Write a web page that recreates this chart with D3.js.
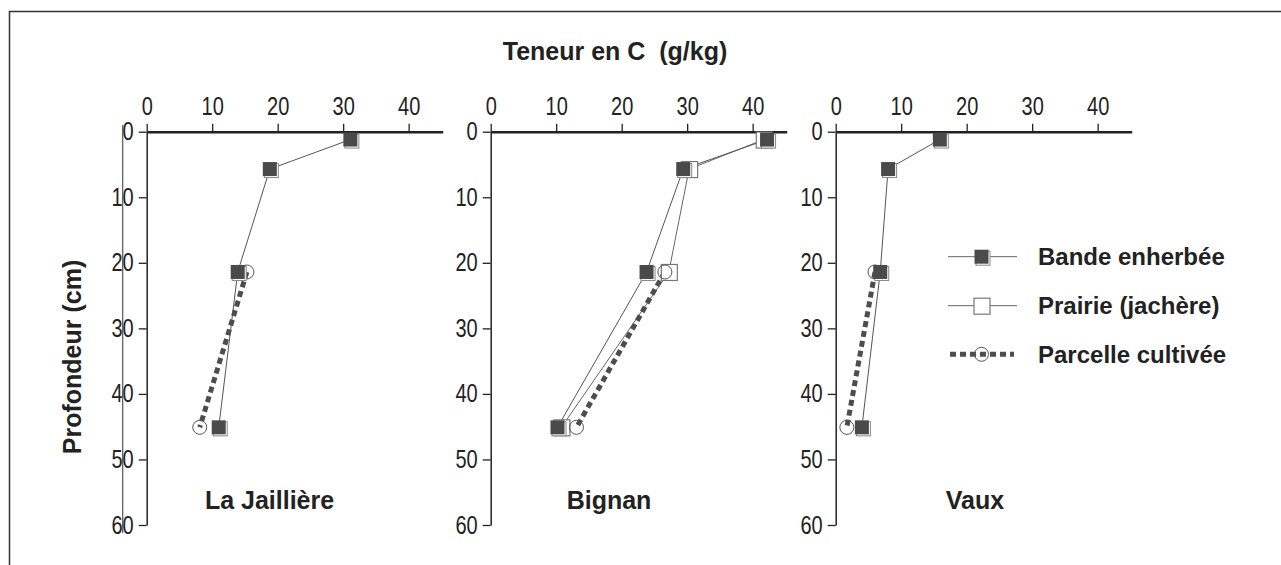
<!DOCTYPE html>
<html>
<head>
<meta charset="utf-8">
<title>Teneur en C</title>
<script src="https://cdnjs.cloudflare.com/ajax/libs/d3/7.8.5/d3.min.js"></script>
<style>
    body { margin: 0; background: #fff; }
    svg { display: block; font-family: "Liberation Sans", Arial, sans-serif; }
    .tick text { font-family: "Liberation Sans", Arial, sans-serif; font-size: 25px; fill: #222; }
    .tick line, .domain { stroke: #222; }
</style>
</head>
<body>
<script>
    // data
    var sites = ["La Jaillière", "Bignan", "Vaux"];
    var depths = [1.2, 5.7, 21.4, 45.1];
    var bande = [[31.1, 18.8, 13.9, 11.0], [42.2, 29.4, 23.8, 10.2], [15.9, 8.0, 6.8, 4.0]];
    var prairie = [null, [41.7, 30.3, 27.2, 10.8], null];
    var parcelleDepths = [21.4, 45.1];
    var parcelle = [[15.3, 8.1], [26.6, 13.1], [6.0, 1.7]];
    var xTicks = [0, 10, 20, 30, 40];
    var yTicks = [0, 10, 20, 30, 40, 50, 60];
    var seriesNames = ["Bande enherbée", "Prairie (jachère)", "Parcelle cultivée"];

    var W = 1281, H = 565;
    var panelX = [146.7, 490.7, 835.7], top0 = 131.7;
    var labelCx = [269.5, 609, 975];
    var squeeze = 0.8; // tick labels are condensed in the original

    var svg = d3.select("body").append("svg").attr("width", W).attr("height", H);
    svg.append("rect").attr("width", W).attr("height", H).attr("fill", "#fff");

    // frame (continues past right and bottom edges)
    svg.append("rect").attr("x", 9.5).attr("y", 11.5).attr("width", 1320).attr("height", 620)
        .attr("fill", "none").attr("stroke", "#333").attr("stroke-width", 1.5);

    // stray vertical line left of first panel
    svg.append("line").attr("x1", 122.7).attr("x2", 122.7).attr("y1", 125).attr("y2", 533)
        .attr("stroke", "#555").attr("stroke-width", 1.2);

    svg.append("text").attr("x", 615).attr("y", 60).attr("text-anchor", "middle")
        .attr("font-weight", "bold").attr("font-size", 25).attr("fill", "#222")
        .attr("xml:space", "preserve").text("Teneur en C  (g/kg)");

    svg.append("text").attr("transform", "translate(81,357) rotate(-90)").attr("text-anchor", "middle")
        .attr("font-weight", "bold").attr("font-size", 25).attr("fill", "#222")
        .text("Profondeur (cm)");

    var x = d3.scaleLinear().domain([0, 45.2]).range([0, 296]);
    var y = d3.scaleLinear().domain([0, 60]).range([0, 393.3]);

    var line = d3.line().x(function(d) { return x(d.v); }).y(function(d) { return y(d.d); });

    function bandeMarker(g, cx, cy) {
        g.append("rect").attr("x", cx - 5.5).attr("y", cy - 5.5).attr("width", 14).attr("height", 14)
            .attr("fill", "#fff").attr("stroke", "#888").attr("stroke-width", 1);
        g.append("rect").attr("x", cx - 7).attr("y", cy - 7).attr("width", 14).attr("height", 14)
            .attr("fill", "#4a4a4a");
    }
    function prairieMarker(g, cx, cy) {
        g.append("rect").attr("x", cx - 7.5).attr("y", cy - 7.5).attr("width", 16).attr("height", 16)
            .attr("fill", "#fff").attr("stroke", "#777").attr("stroke-width", 1.2);
    }
    function circleMarker(g, cx, cy) {
        g.append("circle").attr("cx", cx).attr("cy", cy).attr("r", 7)
            .attr("fill", "none").attr("stroke", "#555").attr("stroke-width", 1);
    }

    sites.forEach(function(site, i) {
        var g = svg.append("g").attr("transform", "translate(" + panelX[i] + "," + top0 + ")");

        var gy = g.append("g").call(d3.axisLeft(y).tickValues(yTicks).tickSize(8).tickPadding(5).tickSizeOuter(0));
        gy.selectAll(".domain").attr("stroke-width", 1.5);
        gy.selectAll(".tick line").attr("stroke-width", 1.3);
        gy.selectAll(".tick text").attr("x", -13 / squeeze).attr("transform", "scale(" + squeeze + ",1)");

        var gx = g.append("g").call(d3.axisTop(x).tickValues(xTicks).tickSize(8).tickPadding(9).tickSizeOuter(0));
        gx.selectAll(".domain").attr("stroke-width", 2.5);
        gx.selectAll(".tick line").attr("stroke-width", 1.3);
        gx.selectAll(".tick text").attr("transform", "scale(" + squeeze + ",1)");

        var bd = depths.map(function(d, k) { return { d: d, v: bande[i][k] }; });
        var cd = parcelleDepths.map(function(d, k) { return { d: d, v: parcelle[i][k] }; });
        var pd = prairie[i] ? depths.map(function(d, k) { return { d: d, v: prairie[i][k] }; }) : [];

        if (pd.length) {
            g.append("path").datum(pd).attr("d", line).attr("fill", "none").attr("stroke", "#666").attr("stroke-width", 1);
        }
        g.append("path").datum(bd).attr("d", line).attr("fill", "none").attr("stroke", "#555").attr("stroke-width", 1);
        g.append("path").datum(cd).attr("d", line).attr("fill", "none").attr("stroke", "#4d4d4d")
            .attr("stroke-width", 5).attr("stroke-dasharray", "6,4");

        pd.forEach(function(p) { prairieMarker(g, x(p.v), y(p.d)); });
        cd.forEach(function(p) { circleMarker(g, x(p.v), y(p.d)); });
        bd.forEach(function(p) { bandeMarker(g, x(p.v), y(p.d)); });

        svg.append("text").attr("x", labelCx[i]).attr("y", 509).attr("text-anchor", "middle")
            .attr("font-weight", "bold").attr("font-size", 25).attr("fill", "#222").text(site);
    });

    // legend
    var legY = [256.7, 305.7, 354.3];
    var leg = svg.append("g");
    seriesNames.forEach(function(name, k) {
        var ly = legY[k];
        if (k < 2) {
            leg.append("line").attr("x1", 948).attr("x2", 1017).attr("y1", ly).attr("y2", ly)
                .attr("stroke", "#666").attr("stroke-width", 1);
        } else {
            leg.append("line").attr("x1", 950).attr("x2", 1014).attr("y1", ly).attr("y2", ly)
                .attr("stroke", "#4d4d4d").attr("stroke-width", 5).attr("stroke-dasharray", "6,4");
        }
        if (k === 0) bandeMarker(leg, 981.5, ly);
        if (k === 1) prairieMarker(leg, 981.5, ly);
        if (k === 2) circleMarker(leg, 981.5, ly);
        leg.append("text").attr("x", 1038).attr("y", ly).attr("dy", "0.36em")
            .attr("font-weight", "bold").attr("font-size", 24).attr("fill", "#222").text(name);
    });
</script>
</body>
</html>
